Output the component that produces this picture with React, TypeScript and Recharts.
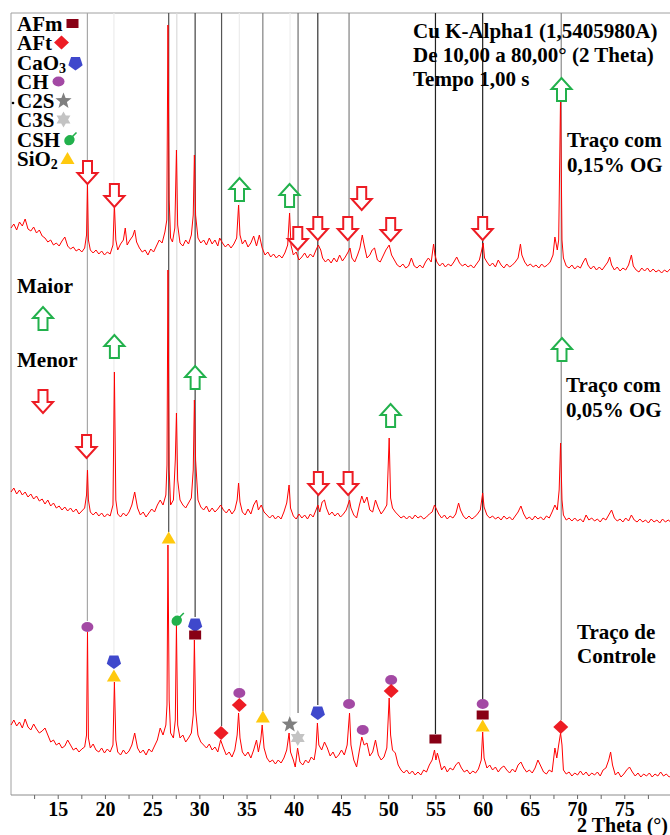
import { ComposedChart, Line, Scatter, XAxis, YAxis, ReferenceLine } from 'recharts';

type Pt = [number, number];

const FONT = "'Liberation Serif', 'Times New Roman', serif";

// 2 Theta ticks (labels only on multiples of 5)
const TICKS = [12.5, 15, 17.5, 20, 22.5, 25, 27.5, 30, 32.5, 35, 37.5, 40, 42.5, 45, 47.5, 50, 52.5, 55, 57.5, 60, 62.5, 65, 67.5, 70, 72.5, 75, 77.5];

// intensity, relative to its own zero (arbitrary units)
const CONTROL: Pt[] = [
  [10.0,70],[10.3,75],[10.6,69],[10.9,73],[11.2,67],[11.5,76],[11.8,68],[12.1,65],[12.4,71],[12.7,66],[13.0,62],[13.3,64],[13.6,67],[13.9,60],[14.2,53],[14.5,55],[14.8,50],[15.1,52],[15.4,47],[15.7,49],[16.0,55],[16.3,50],[16.6,45],[16.9,47],[17.2,43],[17.5,46],[17.8,48],[18.0,60],[18.1,163],[18.2,57],[18.4,47],[18.7,51],[19.0,45],[19.3,43],[19.6,47],[19.9,42],[20.2,46],[20.5,43],[20.8,50],[20.95,113],[21.1,55],[21.3,43],[21.6,40],[21.9,45],[22.2,41],[22.5,44],[22.8,50],[23.1,62],[23.4,47],[23.7,42],[24.0,45],[24.3,40],[24.6,46],[24.9,43],[25.2,49],[25.5,55],[25.8,67],[26.1,60],[26.4,70],[26.52,90],[26.62,250],[26.75,95],[26.9,62],[27.2,57],[27.4,75],[27.52,170],[27.65,70],[27.9,57],[28.2,60],[28.5,53],[28.8,57],[29.1,62],[29.3,80],[29.42,155],[29.55,85],[29.8,60],[30.1,53],[30.4,50],[30.7,47],[31.0,51],[31.3,45],[31.6,48],[31.9,43],[32.2,55],[32.5,47],[32.8,40],[33.1,43],[33.4,38],[33.7,45],[33.95,60],[34.1,82],[34.25,57],[34.5,43],[34.8,39],[35.1,43],[35.4,37],[35.7,45],[36.0,55],[36.2,43],[36.45,55],[36.6,70],[36.8,47],[37.1,37],[37.4,33],[37.7,35],[38.0,31],[38.3,35],[38.6,32],[38.9,37],[39.2,45],[39.45,62],[39.6,43],[39.9,35],[40.1,28],[40.35,47],[40.6,33],[40.9,30],[41.2,35],[41.5,32],[41.8,38],[42.1,35],[42.3,47],[42.45,72],[42.6,50],[42.9,45],[43.2,53],[43.5,47],[43.8,39],[44.1,43],[44.4,37],[44.7,40],[45.0,45],[45.3,40],[45.6,50],[45.85,82],[46.0,50],[46.3,35],[46.6,28],[46.9,45],[47.15,58],[47.4,50],[47.7,52],[48.0,39],[48.3,43],[48.6,55],[48.9,40],[49.2,35],[49.5,38],[49.8,47],[50.05,97],[50.2,60],[50.4,45],[50.7,42],[51.0,30],[51.3,25],[51.6,22],[51.9,25],[52.2,21],[52.5,24],[52.8,20],[53.1,23],[53.4,20],[53.7,25],[54.0,23],[54.3,30],[54.6,35],[54.85,45],[55.0,35],[55.15,42],[55.3,37],[55.6,25],[55.9,29],[56.2,23],[56.5,27],[56.8,25],[57.1,30],[57.4,33],[57.7,27],[58.0,23],[58.3,25],[58.6,21],[58.9,24],[59.2,22],[59.5,26],[59.8,35],[59.95,63],[60.1,37],[60.4,27],[60.7,30],[61.0,25],[61.3,28],[61.6,23],[61.9,27],[62.2,29],[62.5,25],[62.8,22],[63.1,26],[63.4,23],[63.7,30],[64.0,33],[64.3,27],[64.6,23],[64.9,25],[65.2,22],[65.5,27],[65.8,35],[66.1,29],[66.4,23],[66.7,21],[67.0,25],[67.3,23],[67.6,47],[67.8,37],[68.0,50],[68.2,62],[68.35,50],[68.5,25],[68.8,21],[69.1,23],[69.4,19],[69.7,22],[70.0,20],[70.3,24],[70.6,20],[70.9,23],[71.2,19],[71.5,22],[71.8,20],[72.1,23],[72.4,19],[72.7,25],[73.0,27],[73.3,35],[73.5,43],[73.7,30],[74.0,20],[74.3,23],[74.6,18],[74.9,21],[75.2,25],[75.5,28],[75.8,23],[76.1,19],[76.4,22],[76.7,18],[77.0,21],[77.3,19],[77.6,22],[77.9,18],[78.2,21],[78.5,19],[78.8,23],[79.1,19],[79.4,21],[79.7,18],[80.0,20],
];

const OG_005: Pt[] = [
  [10.0,53],[10.3,57],[10.6,51],[10.9,55],[11.2,50],[11.5,53],[11.8,48],[12.1,51],[12.4,46],[12.7,49],[13.0,44],[13.3,46],[13.6,41],[13.9,45],[14.2,39],[14.5,42],[14.8,37],[15.1,39],[15.4,35],[15.7,38],[16.0,34],[16.3,37],[16.6,33],[16.9,36],[17.2,31],[17.5,34],[17.8,37],[18.0,50],[18.1,75],[18.2,45],[18.4,33],[18.7,30],[19.0,33],[19.3,29],[19.6,32],[19.9,28],[20.2,31],[20.5,29],[20.8,40],[20.95,173],[21.1,45],[21.3,31],[21.6,28],[21.9,32],[22.2,29],[22.5,33],[22.8,40],[23.1,53],[23.4,37],[23.7,30],[24.0,33],[24.3,28],[24.6,32],[24.9,36],[25.2,33],[25.5,40],[25.8,45],[26.1,40],[26.4,50],[26.52,80],[26.62,275],[26.75,75],[26.9,40],[27.2,45],[27.4,85],[27.52,132],[27.65,65],[27.9,45],[28.2,40],[28.5,37],[28.8,42],[29.1,47],[29.3,75],[29.42,145],[29.55,85],[29.8,45],[30.1,38],[30.4,35],[30.7,39],[31.0,33],[31.3,37],[31.6,33],[31.9,36],[32.2,40],[32.5,35],[32.8,32],[33.1,36],[33.4,31],[33.7,35],[33.95,45],[34.1,62],[34.25,43],[34.5,33],[34.8,30],[35.1,36],[35.4,31],[35.7,40],[36.0,45],[36.2,35],[36.5,40],[36.8,33],[37.1,30],[37.4,27],[37.7,30],[38.0,26],[38.3,29],[38.6,26],[38.9,33],[39.2,42],[39.45,60],[39.6,37],[39.9,29],[40.2,26],[40.5,31],[40.8,27],[41.1,30],[41.4,26],[41.7,31],[42.0,28],[42.3,35],[42.5,40],[42.7,33],[42.95,43],[43.2,45],[43.4,37],[43.7,30],[44.0,33],[44.3,29],[44.6,32],[44.9,28],[45.2,31],[45.5,35],[45.85,45],[46.0,37],[46.3,30],[46.6,27],[46.9,40],[47.15,49],[47.4,42],[47.7,48],[48.0,35],[48.3,33],[48.6,45],[48.9,37],[49.2,31],[49.5,35],[49.8,40],[50.05,107],[50.2,47],[50.4,37],[50.7,33],[51.0,30],[51.3,27],[51.6,29],[51.9,26],[52.2,29],[52.5,26],[52.8,30],[53.1,27],[53.4,29],[53.7,26],[54.0,28],[54.3,31],[54.6,33],[54.85,40],[55.0,37],[55.3,31],[55.6,27],[55.9,30],[56.2,26],[56.5,29],[56.8,27],[57.1,31],[57.4,42],[57.6,35],[57.9,29],[58.2,26],[58.5,29],[58.8,26],[59.1,28],[59.4,31],[59.7,35],[59.95,52],[60.1,38],[60.4,30],[60.7,27],[61.0,29],[61.3,26],[61.6,28],[61.9,25],[62.2,29],[62.5,26],[62.8,28],[63.1,25],[63.4,29],[63.7,33],[64.0,39],[64.3,31],[64.6,26],[64.9,28],[65.2,25],[65.5,29],[65.8,26],[66.1,28],[66.4,25],[66.7,29],[67.0,27],[67.3,33],[67.6,40],[67.85,35],[68.05,55],[68.2,102],[68.35,45],[68.5,30],[68.8,25],[69.1,27],[69.4,24],[69.7,27],[70.0,24],[70.3,26],[70.6,23],[70.9,30],[71.2,25],[71.5,27],[71.8,24],[72.1,26],[72.4,23],[72.7,27],[73.0,25],[73.3,30],[73.6,35],[73.9,27],[74.2,24],[74.5,26],[74.8,23],[75.1,27],[75.4,24],[75.7,30],[76.0,25],[76.3,23],[76.6,26],[76.9,23],[77.2,25],[77.5,22],[77.8,26],[78.1,23],[78.4,25],[78.7,22],[79.0,26],[79.3,23],[79.6,25],[80.0,22],
];

const OG_015: Pt[] = [
  [10.0,67],[10.3,71],[10.6,65],[10.9,73],[11.2,69],[11.5,76],[11.8,66],[12.1,64],[12.4,68],[12.7,62],[13.0,65],[13.3,59],[13.6,57],[13.9,53],[14.2,55],[14.5,50],[14.8,52],[15.1,49],[15.4,54],[15.7,58],[16.0,49],[16.3,46],[16.6,48],[16.9,44],[17.2,46],[17.5,43],[17.8,47],[18.0,60],[18.1,110],[18.2,55],[18.4,45],[18.7,42],[19.0,45],[19.3,41],[19.6,44],[19.9,40],[20.2,43],[20.5,41],[20.8,50],[20.95,90],[21.1,55],[21.3,45],[21.6,51],[21.9,55],[22.1,67],[22.3,50],[22.6,55],[22.9,59],[23.1,65],[23.3,53],[23.6,47],[23.9,43],[24.2,45],[24.5,40],[24.8,46],[25.1,43],[25.4,49],[25.7,55],[26.0,52],[26.3,63],[26.5,75],[26.62,270],[26.75,95],[26.9,57],[27.1,53],[27.35,67],[27.52,145],[27.65,70],[27.9,52],[28.2,49],[28.5,55],[28.8,51],[29.1,60],[29.3,80],[29.42,140],[29.55,80],[29.8,57],[30.1,52],[30.4,55],[30.7,50],[31.0,57],[31.3,51],[31.6,55],[31.9,49],[32.1,57],[32.4,52],[32.7,48],[33.0,51],[33.3,47],[33.6,51],[33.9,57],[34.1,90],[34.25,60],[34.5,51],[34.8,55],[35.1,48],[35.4,52],[35.7,59],[36.0,49],[36.3,60],[36.6,47],[36.9,40],[37.2,43],[37.5,38],[37.8,41],[38.1,37],[38.4,40],[38.7,37],[39.0,42],[39.3,50],[39.5,82],[39.65,50],[39.9,40],[40.2,43],[40.5,35],[40.8,38],[41.1,42],[41.4,37],[41.7,41],[42.0,38],[42.3,45],[42.55,50],[42.8,45],[43.0,37],[43.3,33],[43.6,36],[43.9,32],[44.2,37],[44.5,33],[44.8,40],[45.1,34],[45.4,38],[45.7,43],[45.9,47],[46.1,37],[46.4,33],[46.7,40],[46.95,47],[47.2,60],[47.4,50],[47.7,37],[48.0,40],[48.25,45],[48.5,47],[48.8,35],[49.1,33],[49.4,39],[49.7,45],[50.05,50],[50.3,40],[50.6,35],[50.9,30],[51.2,28],[51.5,31],[51.8,27],[52.1,29],[52.4,37],[52.7,29],[53.0,27],[53.3,30],[53.6,27],[53.9,33],[54.2,37],[54.5,33],[54.75,51],[54.9,40],[55.1,33],[55.4,29],[55.7,32],[56.0,28],[56.3,31],[56.6,29],[56.9,33],[57.2,38],[57.5,32],[57.8,29],[58.1,31],[58.4,28],[58.7,30],[59.0,27],[59.3,31],[59.6,35],[59.85,45],[60.0,52],[60.15,37],[60.4,33],[60.7,29],[61.0,32],[61.3,28],[61.6,35],[61.9,30],[62.2,27],[62.5,31],[62.8,28],[63.1,30],[63.4,33],[63.7,37],[63.95,51],[64.1,40],[64.4,33],[64.7,29],[65.0,31],[65.3,28],[65.6,30],[65.9,27],[66.2,31],[66.5,28],[66.8,30],[67.1,33],[67.4,40],[67.6,58],[67.85,45],[68.0,55],[68.2,200],[68.35,55],[68.5,37],[68.8,29],[69.1,27],[69.4,30],[69.7,26],[70.0,29],[70.3,27],[70.6,33],[70.85,37],[71.1,30],[71.4,26],[71.7,29],[72.0,25],[72.3,28],[72.6,25],[72.9,29],[73.2,33],[73.4,38],[73.6,30],[73.9,25],[74.2,28],[74.5,24],[74.8,27],[75.1,25],[75.4,30],[75.7,40],[75.9,29],[76.2,25],[76.5,23],[76.8,27],[77.1,24],[77.4,27],[77.7,23],[78.0,26],[78.3,23],[78.6,25],[78.9,22],[79.2,25],[79.5,23],[79.8,26],[80.0,23],
];

// phase identification marks on the control pattern: [phase, 2theta, level]
const PHASES: [string, number, number][] = [
  ['CH', 18.09, 168], ['CaO3', 20.9, 134], ['SiO2', 20.9, 119], ['SiO2', 26.7, 257],
  ['CSH', 27.56, 175], ['CaO3', 29.5, 171], ['AFm', 29.5, 160], ['AFt', 32.25, 62],
  ['CH', 34.18, 102], ['AFt', 34.18, 90], ['SiO2', 36.67, 78], ['C2S', 39.52, 71],
  ['C3S', 40.37, 57], ['CaO3', 42.49, 83], ['CH', 45.8, 91], ['CH', 47.25, 65],
  ['CH', 50.26, 115], ['AFt', 50.26, 104], ['AFm', 54.95, 56], ['CH', 59.95, 91],
  ['AFm', 59.95, 80], ['SiO2', 59.95, 69], ['AFt', 68.22, 68],
];

// vertical guide lines: [2theta, grey, level where it stops]
const GUIDES: [number, string, number][] = [
  [18.09, '#a8a8a8', 174], [20.9, '#ececec', 141], [26.7, '#505050', 263],
  [27.56, '#dadada', 182], [29.5, '#404040', 178], [32.3, '#555555', 69],
  [34.18, '#ececec', 107], [36.67, '#808080', 84], [39.55, '#f0f0f0', 79],
  [40.4, '#707070', 82], [42.49, '#333333', 90], [45.8, '#808080', 96],
  [54.95, '#222222', 61], [59.95, '#222222', 96], [68.27, '#8c8c8c', 75],
];

// change arrows (tip position) for the two modified mixes
const ARROWS_UP: Pt[] = [
  [34.2, 617], [39.5, 611], [68.3, 717],
  [20.95, 460], [29.5, 429], [50.2, 391], [68.35, 457],
];
const ARROWS_DOWN: Pt[] = [
  [18.1, 611], [20.95, 588], [40.37, 545], [42.49, 555], [45.66, 555], [47.14, 585], [50.21, 554], [59.95, 555],
  [18.0, 337], [42.55, 300], [45.7, 300],
];

const LEGEND = ['AFm', 'AFt', 'CaO3', 'CH', 'C2S', 'C3S', 'CSH', 'SiO2'];

const PHASE_COLORS: Record<string, string> = {
  AFm: '#880015', AFt: '#ED1C24', CaO3: '#3F48CC', CH: '#A349A4',
  C2S: '#7F7F7F', C3S: '#C3C3C3', CSH: '#22B14C', SiO2: '#FFC90E',
};

const starPoints = (cx: number, cy: number, n: number, ro: number, ri: number) => {
  const pts: string[] = [];
  for (let i = 0; i < n * 2; i++) {
    const r = i % 2 === 0 ? ro : ri;
    const a = -Math.PI / 2 + (i * Math.PI) / n;
    pts.push(`${cx + r * Math.cos(a)},${cy + r * Math.sin(a)}`);
  }
  return pts.join(' ');
};

function PhaseMark({ kind, cx, cy }: { kind: string; cx: number; cy: number }) {
  const fill = PHASE_COLORS[kind];
  switch (kind) {
    case 'AFm':
      return <rect x={cx - 6} y={cy - 4.5} width={12} height={9} fill={fill} />;
    case 'AFt':
      return <polygon points={`${cx},${cy - 7} ${cx + 7.5},${cy} ${cx},${cy + 7} ${cx - 7.5},${cy}`} fill={fill} />;
    case 'CaO3':
      return <polygon points={starPoints(cx, cy + 0.5, 5, 7.5, 6.1)} fill={fill} transform={`rotate(36 ${cx} ${cy + 0.5})`} />;
    case 'CH':
      return <ellipse cx={cx} cy={cy} rx={6} ry={5} fill={fill} />;
    case 'C2S':
      return <polygon points={starPoints(cx, cy + 0.5, 5, 8.5, 3.6)} fill={fill} />;
    case 'C3S':
      return <polygon points={starPoints(cx, cy, 6, 8, 4.6)} fill={fill} />;
    case 'CSH':
      return (
        <g fill={fill}>
          <ellipse cx={cx - 0.5} cy={cy + 0.5} rx={5.5} ry={4.8} transform={`rotate(-40 ${cx} ${cy})`} />
          <path d={`M${cx + 2},${cy - 2} L${cx + 7},${cy - 7}`} stroke={fill} strokeWidth={1.6} />
        </g>
      );
    case 'SiO2':
      return <polygon points={`${cx},${cy - 6.5} ${cx + 7},${cy + 5.5} ${cx - 7},${cy + 5.5}`} fill={fill} />;
    default:
      return null;
  }
}

function Arrow({ cx, cy, up }: { cx: number; cy: number; up: boolean }) {
  const s = up ? -1 : 1;
  const d = [
    `M${cx - 4.5},${cy - s * 23}`,
    `L${cx + 4.5},${cy - s * 23}`,
    `L${cx + 4.5},${cy - s * 11}`,
    `L${cx + 10},${cy - s * 11}`,
    `L${cx},${cy}`,
    `L${cx - 10},${cy - s * 11}`,
    `L${cx - 4.5},${cy - s * 11}`,
    'Z',
  ].join(' ');
  return <path d={d} fill="#fff" stroke={up ? '#22B14C' : '#ED1C24'} strokeWidth={2} strokeLinejoin="miter" />;
}

const toSeries = (rows: Pt[], offset: number) => rows.map(([x, v]) => ({ x, y: v + offset }));

const textStyle = { fontFamily: FONT, fontWeight: 700, fontSize: 21, fill: '#000' };

export default function App() {
  const phaseData = PHASES.map(([phase, x, y]) => ({ phase, x, y }));
  const upData = ARROWS_UP.map(([x, y]) => ({ x, y }));
  const downData = ARROWS_DOWN.map(([x, y]) => ({ x, y }));

  return (
    <div style={{ position: 'absolute', left: 0, top: 0, width: 670, height: 835, overflow: 'hidden', background: '#fff' }}>
      <ComposedChart width={680} height={835} margin={{ top: 13, right: 8, bottom: 0, left: 11 }}>
        <XAxis
          type="number"
          dataKey="x"
          domain={[10, 80]}
          ticks={TICKS}
          interval={0}
          height={40}
          tickSize={4}
          tickMargin={3}
          axisLine={{ stroke: '#8c8c8c' }}
          tickLine={{ stroke: '#666' }}
          tick={{ fontFamily: FONT, fontWeight: 700, fontSize: 20, fill: '#000' }}
          tickFormatter={(v) => (v % 5 === 0 ? String(v) : '')}
        />
        <YAxis hide type="number" dataKey="y" domain={[0, 782]} allowDataOverflow />
        <ReferenceLine x={10} stroke="#a0a0a0" ifOverflow="visible" />
        <ReferenceLine y={782} stroke="#a0a0a0" ifOverflow="visible" />
        {GUIDES.map(([x, color, end]) => (
          <ReferenceLine
            key={x}
            segment={[{ x, y: end }, { x, y: 782 }]}
            stroke={color}
            strokeWidth={1.2}
            ifOverflow="visible"
          />
        ))}
        <Line data={toSeries(OG_015, 500)} dataKey="y" stroke="#ff0000" strokeWidth={1} dot={false} isAnimationActive={false} />
        <Line data={toSeries(OG_005, 250)} dataKey="y" stroke="#ff0000" strokeWidth={1} dot={false} isAnimationActive={false} />
        <Line data={toSeries(CONTROL, 0)} dataKey="y" stroke="#ff0000" strokeWidth={1} dot={false} isAnimationActive={false} />
        <Scatter
          data={phaseData}
          dataKey="y"
          isAnimationActive={false}
          shape={(p: any) => <PhaseMark kind={p.payload?.phase ?? p.phase} cx={p.cx} cy={p.cy} />}
        />
        <Scatter data={upData} dataKey="y" isAnimationActive={false} shape={(p: any) => <Arrow cx={p.cx} cy={p.cy} up />} />
        <Scatter data={downData} dataKey="y" isAnimationActive={false} shape={(p: any) => <Arrow cx={p.cx} cy={p.cy} up={false} />} />
      </ComposedChart>

      {/* phase legend */}
      <div style={{ position: 'absolute', left: 17, top: 15, fontFamily: FONT, fontWeight: 700, fontSize: 21, lineHeight: '19.3px', color: '#000', whiteSpace: 'nowrap' }}>
        {LEGEND.map((k) => (
          <div key={k}>
            {k === 'CaO3' || k === 'SiO2' ? (
              <>
                {k.slice(0, -1)}
                <span style={{ fontSize: 14, verticalAlign: '-3px', lineHeight: 0 }}>{k.slice(-1)}</span>
              </>
            ) : (
              k
            )}
            <svg width={17} height={17} style={{ verticalAlign: '-1px', marginLeft: 1 }}>
              <PhaseMark kind={k} cx={8.5} cy={8.5} />
            </svg>
          </div>
        ))}
      </div>

      <svg width={670} height={835} style={{ position: 'absolute', left: 0, top: 0, pointerEvents: 'none' }}>
        <circle cx={13} cy={103} r={1.3} fill="#000" />
        <text x={413} y={38} style={textStyle}>Cu K-Alpha1 (1,5405980A)</text>
        <text x={413} y={62} style={textStyle}>De 10,00 a 80,00° (2 Theta)</text>
        <text x={413} y={86} style={textStyle}>Tempo 1,00 s</text>

        <text x={567} y={147} style={textStyle}>Traço com</text>
        <text x={567} y={172} style={textStyle}>0,15% OG</text>
        <text x={566} y={392} style={textStyle}>Traço com</text>
        <text x={566} y={417} style={textStyle}>0,05% OG</text>
        <text x={577} y={639} style={textStyle}>Traço de</text>
        <text x={577} y={663} style={textStyle}>Controle</text>

        <text x={17} y={293} style={textStyle}>Maior</text>
        <Arrow cx={43} cy={307} up />
        <text x={17} y={367} style={textStyle}>Menor</text>
        <Arrow cx={43} cy={413} up={false} />

        <text x={668} y={832} textAnchor="end" style={{ ...textStyle, fontSize: 20 }}>2 Theta (°)</text>
      </svg>
    </div>
  );
}
